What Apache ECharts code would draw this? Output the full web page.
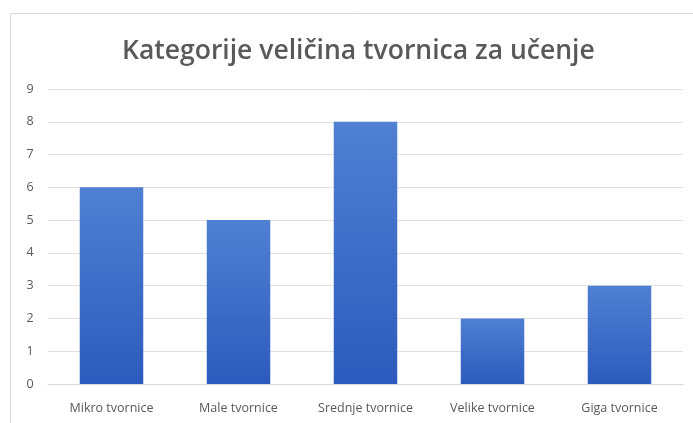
<!DOCTYPE html>
<html><head><meta charset="utf-8">
<script src="https://cdn.jsdelivr.net/npm/echarts@6/dist/echarts.min.js"></script>
<style>html,body{margin:0;padding:0;background:#fff}#c{width:693px;height:423px}</style>
</head><body><div id="c"></div>
<script>
const categories = ['Mikro tvornice', 'Male tvornice', 'Srednje tvornice', 'Velike tvornice', 'Giga tvornice'];
const values = [6, 5, 8, 2, 3];
const yTicks = [0, 1, 2, 3, 4, 5, 6, 7, 8, 9];

const chart = echarts.init(document.getElementById('c'));
chart.setOption({
  animation: false,
  backgroundColor: '#fff',
  graphic: [{
    type: 'rect', shape: {x: 10.5, y: 13.5, width: 700, height: 420},
    style: {fill: 'none', stroke: '#d9d9d9', lineWidth: 1}, silent: true
  }],
  title: {
    text: 'Kategorije veličina tvornica za učenje',
    left: 117, top: 33,
    textStyle: {fontFamily: 'Open Sans', fontSize: 26.5, fontWeight: 600, color: '#595959'}
  },
  grid: {left: 48, right: 10, top: 89, bottom: 39, containLabel: false},
  xAxis: {
    type: 'category', data: categories,
    axisLine: {lineStyle: {color: '#d9d9d9'}},
    axisTick: {show: false},
    axisLabel: {color: '#595959', fontFamily: 'Open Sans', fontSize: 12.5, margin: 18}
  },
  yAxis: {
    type: 'value', min: yTicks[0], max: yTicks[yTicks.length - 1], interval: 1,
    axisLine: {show: false}, axisTick: {show: false},
    splitLine: {lineStyle: {color: '#e0e0e0'}},
    axisLabel: {color: '#595959', fontFamily: 'Open Sans', fontSize: 12.5, margin: 18, align: 'center'}
  },
  series: [{
    type: 'bar', data: values, barWidth: '50%',
    itemStyle: {
      color: new echarts.graphic.LinearGradient(0, 0, 0, 1, [
        {offset: 0, color: '#5080d2'},
        {offset: 1, color: '#2c5bbd'}
      ])
    }
  }]
});
</script></body></html>
